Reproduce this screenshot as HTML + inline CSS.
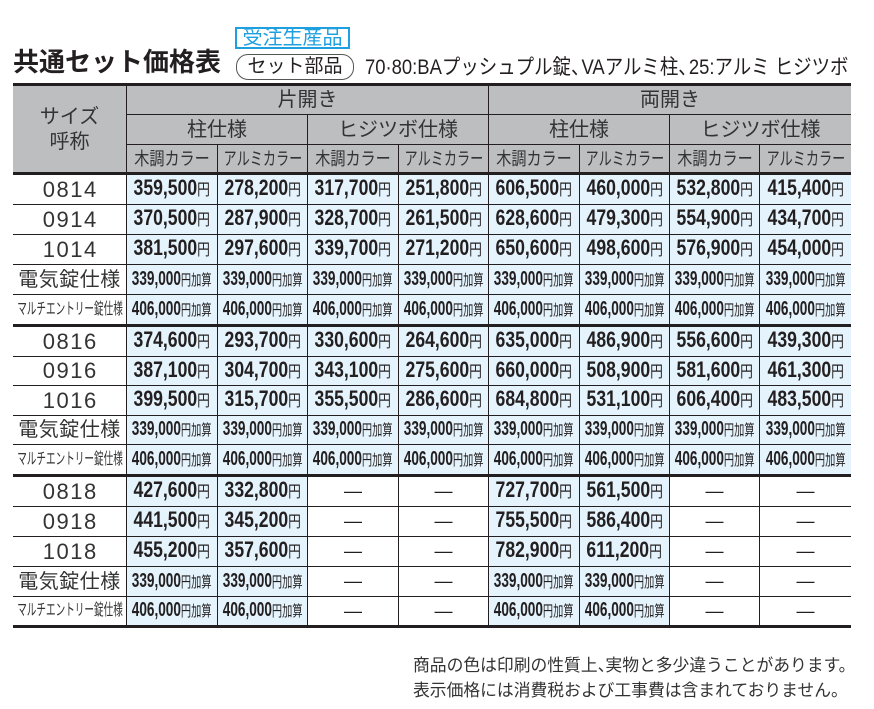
<!DOCTYPE html>
<html><head><meta charset="utf-8">
<style>
*{box-sizing:border-box}
body{margin:0;width:874px;height:709px;background:#fff;position:relative;overflow:hidden;font-family:"Liberation Sans","Noto Sans CJK JP",sans-serif;color:#231f20}
.abs{position:absolute;white-space:nowrap}
.tbl{position:absolute;left:13px;top:83px;width:838px}
.bar{height:3px;background:#231f20}
.grid{display:grid;grid-template-columns:113px 90px 89px 90px 89px 90px 89px 89px 91px;gap:1px;background:#231f20}
.grid>div{display:flex;align-items:center;justify-content:center;white-space:nowrap;overflow:visible}
.hd{grid-template-rows:28px 29px 27px}
.hd>div{background:#bcbec0;color:#333;font-size:20px;line-height:22px}
.hd span{display:inline-block;font-size:18px;line-height:18px}
.k{transform:scaleX(.84)}
.a{transform:scaleX(.73)}
.g1{grid-template-rows:29px 29px 29px 29px 29px}
.g2{grid-template-rows:29px 28px 29px 28px 29px}
.g3{grid-template-rows:29px 29px 29px 29px 28px}
.n{background:#fff;color:#333}
.v{background:#e4f3fc}
.w{background:#fff;font-size:18px;color:#231f20}
.s{font-size:22px;letter-spacing:1.5px;padding-left:1.5px;line-height:22px}
.e{font-size:20px;letter-spacing:.5px;line-height:22px}
.m span{display:inline-block;font-size:16px;line-height:18px;transform:scaleX(.6)}
.p{display:inline-block;transform:scaleX(.8);font-weight:bold;font-size:22px;line-height:22px;color:#231f20}
.q{display:inline-block;transform:scaleX(.68);font-weight:bold;font-size:20px;line-height:20px;color:#231f20}
.p i{font-style:normal;font-weight:normal;font-size:16px}
.q i{font-style:normal;font-weight:normal;font-size:15px}
.nc{letter-spacing:-9px}
</style></head>
<body>
<div class="abs" style="left:13px;top:49px;font-size:26px;line-height:26px;font-weight:bold;color:#231f20">共通セット価格表</div>
<div class="abs" style="left:235px;top:27px;width:115px;height:22px;border:2px solid #1ea0e0;color:#1ea0e0;font-size:20px;line-height:18px;text-align:center">受注生産品</div>
<div class="abs" style="left:236px;top:54px;width:118px;height:26px;border:1.5px solid #555;border-radius:12px;color:#231f20;font-size:19px;line-height:23px;text-align:center">セット部品</div>
<div class="abs" style="left:365px;top:57px;font-size:21px;line-height:22px;color:#231f20;transform:scaleX(.878);transform-origin:0 0">70·80:BAプッシュプル錠<span class="nc">、</span>VAアルミ柱<span class="nc">、</span>25:アルミ ヒジツボ</div>

<div class="tbl">
<div class="bar"></div>
<div class="grid hd">
<div style="grid-row:1/4;grid-column:1/2;text-align:center;line-height:25px;padding-top:2px">サイズ<br>呼称</div>
<div style="grid-row:1;grid-column:2/6">片開き</div>
<div style="grid-row:1;grid-column:6/10">両開き</div>
<div style="grid-row:2;grid-column:2/4">柱仕様</div>
<div style="grid-row:2;grid-column:4/6">ヒジツボ仕様</div>
<div style="grid-row:2;grid-column:6/8">柱仕様</div>
<div style="grid-row:2;grid-column:8/10">ヒジツボ仕様</div>
<div style="grid-row:3;grid-column:2"><span class="k">木調カラー</span></div>
<div style="grid-row:3;grid-column:3"><span class="a">アルミカラー</span></div>
<div style="grid-row:3;grid-column:4"><span class="k">木調カラー</span></div>
<div style="grid-row:3;grid-column:5"><span class="a">アルミカラー</span></div>
<div style="grid-row:3;grid-column:6"><span class="k">木調カラー</span></div>
<div style="grid-row:3;grid-column:7"><span class="a">アルミカラー</span></div>
<div style="grid-row:3;grid-column:8"><span class="k">木調カラー</span></div>
<div style="grid-row:3;grid-column:9"><span class="a">アルミカラー</span></div>
</div>
<div class="bar"></div>

<div class="grid g1">
<div class="n s">0814</div>
<div class="v"><span class="p">359,500<i>円</i></span></div>
<div class="v"><span class="p">278,200<i>円</i></span></div>
<div class="v"><span class="p">317,700<i>円</i></span></div>
<div class="v"><span class="p">251,800<i>円</i></span></div>
<div class="v"><span class="p">606,500<i>円</i></span></div>
<div class="v"><span class="p">460,000<i>円</i></span></div>
<div class="v"><span class="p">532,800<i>円</i></span></div>
<div class="v"><span class="p">415,400<i>円</i></span></div>

<div class="n s">0914</div>
<div class="v"><span class="p">370,500<i>円</i></span></div>
<div class="v"><span class="p">287,900<i>円</i></span></div>
<div class="v"><span class="p">328,700<i>円</i></span></div>
<div class="v"><span class="p">261,500<i>円</i></span></div>
<div class="v"><span class="p">628,600<i>円</i></span></div>
<div class="v"><span class="p">479,300<i>円</i></span></div>
<div class="v"><span class="p">554,900<i>円</i></span></div>
<div class="v"><span class="p">434,700<i>円</i></span></div>

<div class="n s">1014</div>
<div class="v"><span class="p">381,500<i>円</i></span></div>
<div class="v"><span class="p">297,600<i>円</i></span></div>
<div class="v"><span class="p">339,700<i>円</i></span></div>
<div class="v"><span class="p">271,200<i>円</i></span></div>
<div class="v"><span class="p">650,600<i>円</i></span></div>
<div class="v"><span class="p">498,600<i>円</i></span></div>
<div class="v"><span class="p">576,900<i>円</i></span></div>
<div class="v"><span class="p">454,000<i>円</i></span></div>

<div class="n e">電気錠仕様</div>
<div class="v"><span class="q">339,000<i>円加算</i></span></div>
<div class="v"><span class="q">339,000<i>円加算</i></span></div>
<div class="v"><span class="q">339,000<i>円加算</i></span></div>
<div class="v"><span class="q">339,000<i>円加算</i></span></div>
<div class="v"><span class="q">339,000<i>円加算</i></span></div>
<div class="v"><span class="q">339,000<i>円加算</i></span></div>
<div class="v"><span class="q">339,000<i>円加算</i></span></div>
<div class="v"><span class="q">339,000<i>円加算</i></span></div>

<div class="n m"><span>マルチエントリー錠仕様</span></div>
<div class="v"><span class="q">406,000<i>円加算</i></span></div>
<div class="v"><span class="q">406,000<i>円加算</i></span></div>
<div class="v"><span class="q">406,000<i>円加算</i></span></div>
<div class="v"><span class="q">406,000<i>円加算</i></span></div>
<div class="v"><span class="q">406,000<i>円加算</i></span></div>
<div class="v"><span class="q">406,000<i>円加算</i></span></div>
<div class="v"><span class="q">406,000<i>円加算</i></span></div>
<div class="v"><span class="q">406,000<i>円加算</i></span></div>
</div>
<div class="bar"></div>

<div class="grid g2">
<div class="n s">0816</div>
<div class="v"><span class="p">374,600<i>円</i></span></div>
<div class="v"><span class="p">293,700<i>円</i></span></div>
<div class="v"><span class="p">330,600<i>円</i></span></div>
<div class="v"><span class="p">264,600<i>円</i></span></div>
<div class="v"><span class="p">635,000<i>円</i></span></div>
<div class="v"><span class="p">486,900<i>円</i></span></div>
<div class="v"><span class="p">556,600<i>円</i></span></div>
<div class="v"><span class="p">439,300<i>円</i></span></div>

<div class="n s">0916</div>
<div class="v"><span class="p">387,100<i>円</i></span></div>
<div class="v"><span class="p">304,700<i>円</i></span></div>
<div class="v"><span class="p">343,100<i>円</i></span></div>
<div class="v"><span class="p">275,600<i>円</i></span></div>
<div class="v"><span class="p">660,000<i>円</i></span></div>
<div class="v"><span class="p">508,900<i>円</i></span></div>
<div class="v"><span class="p">581,600<i>円</i></span></div>
<div class="v"><span class="p">461,300<i>円</i></span></div>

<div class="n s">1016</div>
<div class="v"><span class="p">399,500<i>円</i></span></div>
<div class="v"><span class="p">315,700<i>円</i></span></div>
<div class="v"><span class="p">355,500<i>円</i></span></div>
<div class="v"><span class="p">286,600<i>円</i></span></div>
<div class="v"><span class="p">684,800<i>円</i></span></div>
<div class="v"><span class="p">531,100<i>円</i></span></div>
<div class="v"><span class="p">606,400<i>円</i></span></div>
<div class="v"><span class="p">483,500<i>円</i></span></div>

<div class="n e">電気錠仕様</div>
<div class="v"><span class="q">339,000<i>円加算</i></span></div>
<div class="v"><span class="q">339,000<i>円加算</i></span></div>
<div class="v"><span class="q">339,000<i>円加算</i></span></div>
<div class="v"><span class="q">339,000<i>円加算</i></span></div>
<div class="v"><span class="q">339,000<i>円加算</i></span></div>
<div class="v"><span class="q">339,000<i>円加算</i></span></div>
<div class="v"><span class="q">339,000<i>円加算</i></span></div>
<div class="v"><span class="q">339,000<i>円加算</i></span></div>

<div class="n m"><span>マルチエントリー錠仕様</span></div>
<div class="v"><span class="q">406,000<i>円加算</i></span></div>
<div class="v"><span class="q">406,000<i>円加算</i></span></div>
<div class="v"><span class="q">406,000<i>円加算</i></span></div>
<div class="v"><span class="q">406,000<i>円加算</i></span></div>
<div class="v"><span class="q">406,000<i>円加算</i></span></div>
<div class="v"><span class="q">406,000<i>円加算</i></span></div>
<div class="v"><span class="q">406,000<i>円加算</i></span></div>
<div class="v"><span class="q">406,000<i>円加算</i></span></div>
</div>
<div class="bar"></div>

<div class="grid g3">
<div class="n s">0818</div>
<div class="v"><span class="p">427,600<i>円</i></span></div>
<div class="v"><span class="p">332,800<i>円</i></span></div>
<div class="w">—</div>
<div class="w">—</div>
<div class="v"><span class="p">727,700<i>円</i></span></div>
<div class="v"><span class="p">561,500<i>円</i></span></div>
<div class="w">—</div>
<div class="w">—</div>

<div class="n s">0918</div>
<div class="v"><span class="p">441,500<i>円</i></span></div>
<div class="v"><span class="p">345,200<i>円</i></span></div>
<div class="w">—</div>
<div class="w">—</div>
<div class="v"><span class="p">755,500<i>円</i></span></div>
<div class="v"><span class="p">586,400<i>円</i></span></div>
<div class="w">—</div>
<div class="w">—</div>

<div class="n s">1018</div>
<div class="v"><span class="p">455,200<i>円</i></span></div>
<div class="v"><span class="p">357,600<i>円</i></span></div>
<div class="w">—</div>
<div class="w">—</div>
<div class="v"><span class="p">782,900<i>円</i></span></div>
<div class="v"><span class="p">611,200<i>円</i></span></div>
<div class="w">—</div>
<div class="w">—</div>

<div class="n e">電気錠仕様</div>
<div class="v"><span class="q">339,000<i>円加算</i></span></div>
<div class="v"><span class="q">339,000<i>円加算</i></span></div>
<div class="w">—</div>
<div class="w">—</div>
<div class="v"><span class="q">339,000<i>円加算</i></span></div>
<div class="v"><span class="q">339,000<i>円加算</i></span></div>
<div class="w">—</div>
<div class="w">—</div>

<div class="n m"><span>マルチエントリー錠仕様</span></div>
<div class="v"><span class="q">406,000<i>円加算</i></span></div>
<div class="v"><span class="q">406,000<i>円加算</i></span></div>
<div class="w">—</div>
<div class="w">—</div>
<div class="v"><span class="q">406,000<i>円加算</i></span></div>
<div class="v"><span class="q">406,000<i>円加算</i></span></div>
<div class="w">—</div>
<div class="w">—</div>
</div>
<div class="bar"></div>
</div>

<div class="abs" style="left:413px;top:653px;font-size:16.8px;line-height:25px;color:#333">商品の色は印刷の性質上<span class="nc">、</span>実物と多少違うことがあります。<br>表示価格には消費税および工事費は含まれておりません。</div>
</body></html>
